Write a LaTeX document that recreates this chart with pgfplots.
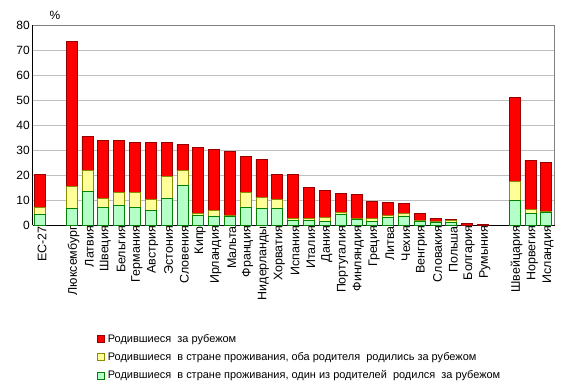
\documentclass[border=0pt]{standalone}
\usepackage{fontspec}
\setmainfont{Liberation Sans}
\usepackage{pgfplots}
\usepackage{pgfplotstable}
\pgfplotsset{compat=1.18}
\definecolor{cred}{RGB}{255,0,0}
\definecolor{credd}{RGB}{150,0,0}
\definecolor{cyel}{RGB}{255,255,153}
\definecolor{cyeld}{RGB}{140,140,0}
\definecolor{cgrn}{RGB}{180,255,200}
\definecolor{cgrnd}{RGB}{0,130,0}
\definecolor{cgrid}{RGB}{192,192,192}
\pgfplotstableread{
x g y r
0 4.3 2.6 13.5
2 6.5 8.8 58.2
3 13.5 8.2 13.8
4 7.1 3.4 23.4
5 7.9 5.0 21.0
6 7.1 5.8 20.2
7 5.9 4.2 23.0
8 10.5 8.8 13.8
9 15.9 5.8 10.6
10 3.9 0.8 26.4
11 3.5 2.4 24.4
12 3.5 0.4 25.6
13 7.1 5.8 14.6
14 6.5 4.4 15.4
15 6.5 3.6 10.2
16 1.9 0.6 17.8
17 1.9 0.6 12.6
18 1.5 1.4 11.0
19 4.3 0.8 7.6
20 2.3 0.4 9.6
21 1.5 1.0 7.0
22 3.1 0.6 5.4
23 3.5 1.2 4.0
24 1.5 0.4 2.8
25 0.9 0.4 1.4
26 0.9 0.8 0.6
27 0 0 0.7
28 0 0 0.3
30 9.7 7.6 33.8
31 4.7 1.4 19.8
32 5.1 0.4 19.6
}\datatable
\begin{document}
\fontsize{11}{13}\selectfont
\begin{tikzpicture}[x=1bp,y=1bp]
\path[use as bounding box] (-40,-164) rectangle (536,225);
\begin{axis}[
  at={(0,0)}, anchor=origin,
  scale only axis, width=522bp, height=200bp,
  ybar stacked, bar width=11bp,
  xmin=-0.45, xmax=32.55, ymin=0, ymax=80,
  ytick={0,10,...,80},
  ymajorgrids, grid style={cgrid, line width=0.8pt},
  axis lines*=left,
  axis line style={black, line width=0.8pt, -},
  major tick length=0pt,
  xtick={0,2,3,4,5,6,7,8,9,10,11,12,13,14,15,16,17,18,19,20,21,22,23,24,25,26,27,28,30,31,32},
  xticklabels={ЕС-27,Люксембург,Латвия,Швеция,Бельгия,Германия,Австрия,Эстония,Словения,Кипр,Ирландия,Мальта,Франция,Нидерланды,Хорватия,Испания,Италия,Дания,Португалия,Финляндия,Греция,Литва,Чехия,Венгрия,Словакия,Польша,Болгария,Румыния,Швейцария,Норвегия,Исландия},
  x tick label style={rotate=90, anchor=east, inner sep=1bp, yshift=-2bp, font=\fontsize{12.5}{13}\selectfont},
  y tick label style={font=\fontsize{12}{13}\selectfont, inner sep=2bp, xshift=-1bp},
  /pgf/number format/assume math mode=true,
  legend style={at={(rel axis cs:0.123,-0.535)}, anchor=north west, draw=none, fill=none, inner sep=0pt, row sep=4.5bp, font=\fontsize{11}{13}\selectfont, column sep=1bp},
  legend cell align=left,
  reverse legend,
  legend image code/.code={\draw[#1, line width=0.6pt, bar width=0pt] (0bp,-3.5bp) rectangle (7bp,3.5bp);},
]
\addplot[fill=cgrn, draw=cgrnd, line width=0.7pt] table[x=x,y=g]{\datatable};
\addplot[fill=cyel, draw=cyeld, line width=0.7pt] table[x=x,y=y]{\datatable};
\addplot[fill=cred, draw=credd, line width=0.7pt] table[x=x,y=r]{\datatable};
\legend{{Родившиеся\ \ в стране проживания, один из родителей\ \ родился\ \ за рубежом},
        {Родившиеся\ \ в стране проживания, оба родителя\ \ родились\ за рубежом},
        {Родившиеся\ \ за рубежом}}
\draw[gray, line width=0.8pt] (rel axis cs:1,0) -- (rel axis cs:1,1);
\draw[gray, line width=0.8pt] (rel axis cs:0,1) -- (rel axis cs:1,1);
\draw[black, line width=0.8pt] (rel axis cs:0,0) -- (rel axis cs:0,1);
\end{axis}
\node[font=\fontsize{12}{13}\selectfont] at (15,210) {\%};
\end{tikzpicture}
\end{document}
